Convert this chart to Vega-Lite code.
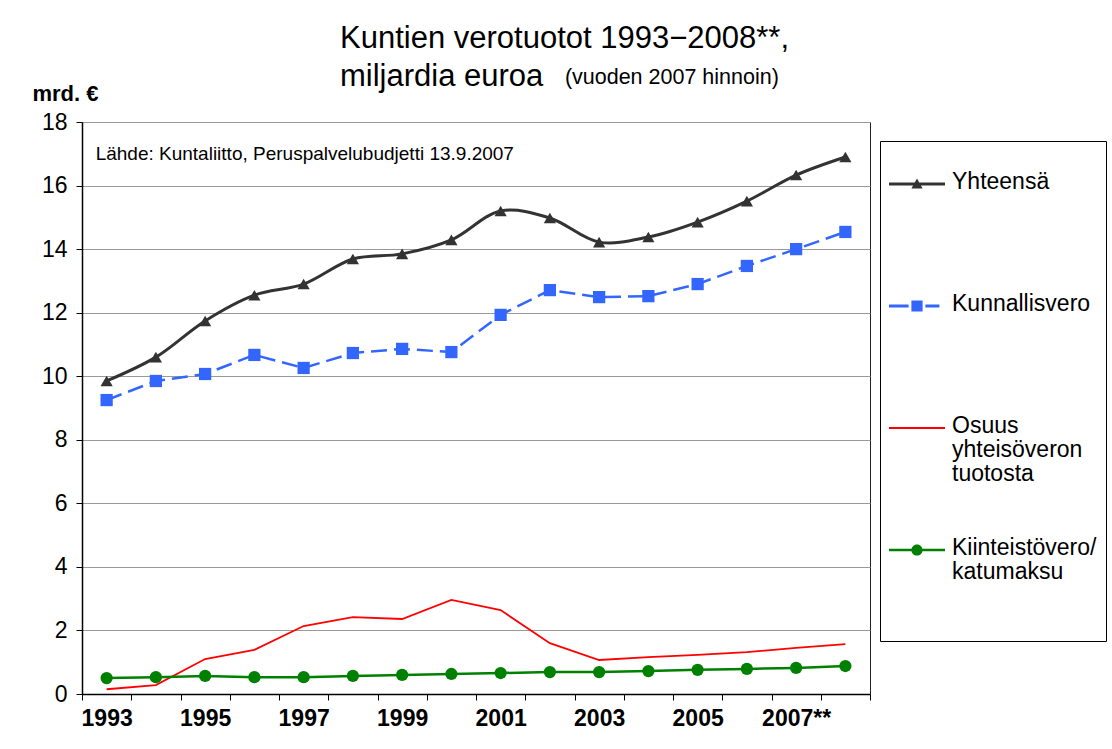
{
  "$schema": "https://vega.github.io/schema/vega-lite/v6.json",
  "autosize": "none",
  "width": 788,
  "height": 572,
  "padding": {"left": 82, "top": 122, "right": 242, "bottom": 55},
  "background": "white",
  "config": {
    "font": "Liberation Sans",
    "view": {"stroke": "#222222", "strokeWidth": 1},
    "axisX": {
      "labelAngle": 0,
      "labelFont": "Liberation Sans",
      "labelFontSize": 23,
      "labelFontWeight": "bold",
      "labelColor": "#000000",
      "labelPadding": 7,
      "tickBand": "extent",
      "tickColor": "#000000",
      "tickSize": 6,
      "domainColor": "#000000",
      "domainWidth": 1.5,
      "grid": false
    },
    "axisY": {
      "labelFont": "Liberation Sans",
      "labelFontSize": 23,
      "labelColor": "#000000",
      "labelPadding": 9,
      "tickColor": "#000000",
      "tickSize": 6,
      "domainColor": "#000000",
      "domainWidth": 1.5,
      "grid": true,
      "gridColor": "#999999",
      "gridWidth": 1
    }
  },
  "title": {
    "text": ["Kuntien verotuotot 1993−2008**,", "miljardia euroa"],
    "fontSize": 31,
    "fontWeight": "normal",
    "color": "#000000",
    "font": "Liberation Sans",
    "anchor": "start",
    "frame": "group",
    "dx": 258,
    "lineHeight": 38,
    "offset": -26
  },
  "data": {
    "values": [
      {"year": "1993", "series": "Yhteensä", "value": 9.85},
      {"year": "1994", "series": "Yhteensä", "value": 10.6},
      {"year": "1995", "series": "Yhteensä", "value": 11.74},
      {"year": "1996", "series": "Yhteensä", "value": 12.55},
      {"year": "1997", "series": "Yhteensä", "value": 12.9},
      {"year": "1998", "series": "Yhteensä", "value": 13.69},
      {"year": "1999", "series": "Yhteensä", "value": 13.85},
      {"year": "2000", "series": "Yhteensä", "value": 14.29},
      {"year": "2001", "series": "Yhteensä", "value": 15.2},
      {"year": "2002", "series": "Yhteensä", "value": 14.98},
      {"year": "2003", "series": "Yhteensä", "value": 14.22},
      {"year": "2004", "series": "Yhteensä", "value": 14.38},
      {"year": "2005", "series": "Yhteensä", "value": 14.85},
      {"year": "2006", "series": "Yhteensä", "value": 15.51},
      {"year": "2007", "series": "Yhteensä", "value": 16.33},
      {"year": "2008", "series": "Yhteensä", "value": 16.9},
      {"year": "1993", "series": "Kunnallisvero", "value": 9.25},
      {"year": "1994", "series": "Kunnallisvero", "value": 9.85},
      {"year": "1995", "series": "Kunnallisvero", "value": 10.07},
      {"year": "1996", "series": "Kunnallisvero", "value": 10.67},
      {"year": "1997", "series": "Kunnallisvero", "value": 10.26},
      {"year": "1998", "series": "Kunnallisvero", "value": 10.73},
      {"year": "1999", "series": "Kunnallisvero", "value": 10.86},
      {"year": "2000", "series": "Kunnallisvero", "value": 10.76},
      {"year": "2001", "series": "Kunnallisvero", "value": 11.93},
      {"year": "2002", "series": "Kunnallisvero", "value": 12.71},
      {"year": "2003", "series": "Kunnallisvero", "value": 12.49},
      {"year": "2004", "series": "Kunnallisvero", "value": 12.52},
      {"year": "2005", "series": "Kunnallisvero", "value": 12.9},
      {"year": "2006", "series": "Kunnallisvero", "value": 13.47},
      {"year": "2007", "series": "Kunnallisvero", "value": 14.0},
      {"year": "2008", "series": "Kunnallisvero", "value": 14.54},
      {"year": "1993", "series": "Osuus yhteisöveron tuotosta", "value": 0.15},
      {"year": "1994", "series": "Osuus yhteisöveron tuotosta", "value": 0.28},
      {"year": "1995", "series": "Osuus yhteisöveron tuotosta", "value": 1.1},
      {"year": "1996", "series": "Osuus yhteisöveron tuotosta", "value": 1.39},
      {"year": "1997", "series": "Osuus yhteisöveron tuotosta", "value": 2.14},
      {"year": "1998", "series": "Osuus yhteisöveron tuotosta", "value": 2.42},
      {"year": "1999", "series": "Osuus yhteisöveron tuotosta", "value": 2.36},
      {"year": "2000", "series": "Osuus yhteisöveron tuotosta", "value": 2.96},
      {"year": "2001", "series": "Osuus yhteisöveron tuotosta", "value": 2.64},
      {"year": "2002", "series": "Osuus yhteisöveron tuotosta", "value": 1.6},
      {"year": "2003", "series": "Osuus yhteisöveron tuotosta", "value": 1.07},
      {"year": "2004", "series": "Osuus yhteisöveron tuotosta", "value": 1.16},
      {"year": "2005", "series": "Osuus yhteisöveron tuotosta", "value": 1.23},
      {"year": "2006", "series": "Osuus yhteisöveron tuotosta", "value": 1.32},
      {"year": "2007", "series": "Osuus yhteisöveron tuotosta", "value": 1.45},
      {"year": "2008", "series": "Osuus yhteisöveron tuotosta", "value": 1.57},
      {"year": "1993", "series": "Kiinteistövero/katumaksu", "value": 0.5},
      {"year": "1994", "series": "Kiinteistövero/katumaksu", "value": 0.53},
      {"year": "1995", "series": "Kiinteistövero/katumaksu", "value": 0.57},
      {"year": "1996", "series": "Kiinteistövero/katumaksu", "value": 0.53},
      {"year": "1997", "series": "Kiinteistövero/katumaksu", "value": 0.53},
      {"year": "1998", "series": "Kiinteistövero/katumaksu", "value": 0.57},
      {"year": "1999", "series": "Kiinteistövero/katumaksu", "value": 0.6},
      {"year": "2000", "series": "Kiinteistövero/katumaksu", "value": 0.63},
      {"year": "2001", "series": "Kiinteistövero/katumaksu", "value": 0.66},
      {"year": "2002", "series": "Kiinteistövero/katumaksu", "value": 0.69},
      {"year": "2003", "series": "Kiinteistövero/katumaksu", "value": 0.69},
      {"year": "2004", "series": "Kiinteistövero/katumaksu", "value": 0.72},
      {"year": "2005", "series": "Kiinteistövero/katumaksu", "value": 0.76},
      {"year": "2006", "series": "Kiinteistövero/katumaksu", "value": 0.79},
      {"year": "2007", "series": "Kiinteistövero/katumaksu", "value": 0.82},
      {"year": "2008", "series": "Kiinteistövero/katumaksu", "value": 0.88}
    ]
  },
  "encoding": {
    "x": {
      "field": "year",
      "type": "ordinal",
      "scale": {"type": "band", "paddingInner": 0, "paddingOuter": 0},
      "axis": {
        "title": null,
        "labelExpr": "toNumber(datum.value) % 2 == 1 ? (datum.value == '2007' ? '2007**' : datum.value) : ''"
      }
    },
    "y": {
      "field": "value",
      "type": "quantitative",
      "scale": {"domain": [0, 18], "nice": false, "zero": true},
      "axis": {
        "title": "mrd. €",
        "titleAngle": 0,
        "titleAlign": "left",
        "titleBaseline": "middle",
        "titleX": -50,
        "titleY": -29,
        "titleFont": "Liberation Sans",
        "titleFontSize": 22,
        "titleFontWeight": "bold",
        "titleColor": "#000000",
        "values": [0, 2, 4, 6, 8, 10, 12, 14, 16, 18]
      }
    }
  },
  "layer": [
    {
      "transform": [{"filter": "datum.series == 'Osuus yhteisöveron tuotosta'"}],
      "mark": {"type": "line", "color": "#FF0000", "strokeWidth": 1.8}
    },
    {
      "transform": [{"filter": "datum.series == 'Kiinteistövero/katumaksu'"}],
      "mark": {"type": "line", "color": "#008000", "strokeWidth": 2.5}
    },
    {
      "transform": [{"filter": "datum.series == 'Kiinteistövero/katumaksu'"}],
      "mark": {"type": "point", "shape": "circle", "filled": true, "color": "#008000", "size": 150, "opacity": 1}
    },
    {
      "transform": [{"filter": "datum.series == 'Kunnallisvero'"}],
      "mark": {"type": "line", "color": "#3366FF", "strokeWidth": 2.5, "strokeDash": [16, 7]}
    },
    {
      "transform": [{"filter": "datum.series == 'Kunnallisvero'"}],
      "mark": {"type": "point", "shape": "square", "filled": true, "color": "#3366FF", "size": 150, "opacity": 1}
    },
    {
      "transform": [{"filter": "datum.series == 'Yhteensä'"}],
      "mark": {"type": "line", "color": "#333333", "strokeWidth": 3, "interpolate": "catmull-rom"}
    },
    {
      "transform": [{"filter": "datum.series == 'Yhteensä'"}],
      "mark": {"type": "point", "shape": "triangle-up", "filled": true, "color": "#333333", "size": 150, "opacity": 1}
    },
    {
      "transform": [{"filter": "datum.series == 'Yhteensä' && datum.year == '1993'"}],
      "mark": {"type": "text", "text": "Lähde: Kuntaliitto, Peruspalvelubudjetti 13.9.2007", "align": "left", "baseline": "middle", "dx": -11, "fontSize": 19, "font": "Liberation Sans", "fill": "#000000"},
      "encoding": {
        "y": {"datum": 17, "type": "quantitative"}
      }
    },
    {
      "transform": [{"filter": "datum.series == 'Yhteensä' && datum.year == '2002'"}],
      "mark": {"type": "text", "text": "(vuoden 2007 hinnoin)", "align": "left", "baseline": "middle", "dx": 15, "fontSize": 21.5, "font": "Liberation Sans", "fill": "#000000"},
      "encoding": {
        "y": {"datum": 19.38, "type": "quantitative"}
      }
    },
    {
      "transform": [{"filter": "false"}],
      "mark": {"type": "point", "filled": true, "opacity": 1, "size": 3025},
      "encoding": {
        "color": {
          "field": "series",
          "type": "nominal",
          "scale": {
            "domain": ["Yhteensä", "Kunnallisvero", "Osuus yhteisöveron tuotosta", "Kiinteistövero/katumaksu"],
            "range": ["#333333", "#3366FF", "#FF0000", "#008000"]
          },
          "legend": {
            "title": "\u00a0",
            "titleFontSize": 2,
            "titlePadding": 4,
            "orient": "none",
            "legendX": 798,
            "legendY": 19,
            "strokeColor": "#000000",
            "fillColor": "#FFFFFF",
            "padding": 9,
            "symbolSize": 3136,
            "symbolStrokeWidth": 0,
            "symbolOpacity": 1,
            "labelFont": "Liberation Sans",
            "labelFontSize": 23,
            "labelColor": "#000000",
            "labelLimit": 400,
            "labelOffset": 7,
            "labelBaseline": "top",
            "rowPadding": 36,
            "labelExpr": "datum.label == 'Osuus yhteisöveron tuotosta' ? ['Osuus', 'yhteisöveron', 'tuotosta'] : datum.label == 'Kiinteistövero/katumaksu' ? ['Kiinteistövero/', 'katumaksu', '', ''] : [datum.label, '', '']",
            "encode": {"labels": {"update": {"dy": {"value": -13}, "lineHeight": {"value": 24}}}}
          }
        },
        "shape": {
          "field": "series",
          "type": "nominal",
          "scale": {
            "domain": ["Yhteensä", "Kunnallisvero", "Osuus yhteisöveron tuotosta", "Kiinteistövero/katumaksu"],
            "range": [
              "M-1,-0.055H1V0.055H-1Z M0,-0.2L0.2,0.16L-0.2,0.16Z",
              "M-1,-0.055H-0.3V0.055H-1Z M0.3,-0.055H0.8V0.055H0.3Z M-0.2,-0.2H0.2V0.2H-0.2Z",
              "M-1,-0.035H1V0.035H-1Z",
              "M-1,-0.045H1V0.045H-1Z M-0.2,0A0.2,0.2 0 1,1 0.2,0A0.2,0.2 0 1,1 -0.2,0Z"
            ]
          }
        }
      }
    }
  ]
}
